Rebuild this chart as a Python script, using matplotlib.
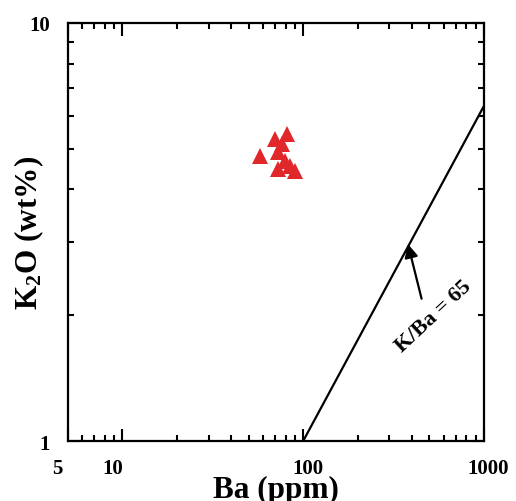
import matplotlib
matplotlib.use("Agg")
import matplotlib.pyplot as plt
from matplotlib.ticker import LogLocator, NullFormatter, FixedLocator, FixedFormatter
from matplotlib.transforms import ScaledTranslation

plt.rcParams['font.family'] = ['Liberation Serif', 'DejaVu Serif']
plt.rcParams['font.weight'] = 'bold'
plt.rcParams['mathtext.fontset'] = 'custom'
plt.rcParams['mathtext.rm'] = 'Liberation Serif:bold'
plt.rcParams['mathtext.bf'] = 'Liberation Serif:bold'
plt.rcParams['mathtext.default'] = 'bf'

# Sample compositions
ba_ppm = [81.0, 69.8, 76.0, 57.7, 72.5, 79.3, 84.5, 90.1, 72.5]
k2o_wt = [5.43, 5.28, 5.13, 4.81, 4.91, 4.68, 4.56, 4.43, 4.47]

# Reference line K/Ba = 65
ref_ba = [100, 1000]
ref_k2o = [1.0, 6.33]

x_ticks = [5, 10, 100, 1000]
x_tick_labels = ['5', '10', '100', '1000']
y_ticks = [1, 10]
y_tick_labels = ['1', '10']

fig = plt.figure(figsize=(5.16, 5.02), dpi=100)
ax = fig.add_axes([0.1318, 0.1195, 0.806, 0.8327])

ax.set_xscale('log')
ax.set_yscale('log')
ax.set_xlim(5, 1000)
ax.set_ylim(1, 10)

ax.plot(ref_ba, ref_k2o, color='black', lw=1.6, solid_capstyle='butt')
ax.plot(ba_ppm, k2o_wt, linestyle='none', marker='^', markersize=11,
        color='#e0282a', markeredgewidth=0)

ax.annotate('', xy=(379.8, 2.96), xytext=(452, 2.19),
            arrowprops=dict(arrowstyle='-|>', lw=1.6, color='black',
                            mutation_scale=20, shrinkA=0, shrinkB=0))
ax.text(529, 1.99, 'K/Ba = 65', rotation=43, ha='center', va='center',
        fontsize=16, fontweight='bold', rotation_mode='anchor')

ax.xaxis.set_major_locator(FixedLocator(x_ticks))
ax.xaxis.set_major_formatter(FixedFormatter(x_tick_labels))
ax.xaxis.set_minor_locator(LogLocator(base=10, subs=range(2, 10)))
ax.xaxis.set_minor_formatter(NullFormatter())
ax.yaxis.set_major_locator(FixedLocator(y_ticks))
ax.yaxis.set_major_formatter(FixedFormatter(y_tick_labels))
ax.yaxis.set_minor_locator(LogLocator(base=10, subs=range(2, 10)))
ax.yaxis.set_minor_formatter(NullFormatter())

ax.tick_params(which='both', direction='in', top=True, right=True, width=1.5,
               labelsize=15)
ax.tick_params(which='major', length=9)
ax.tick_params(which='minor', length=4)
ax.tick_params(axis='x', which='major', pad=12)
ax.tick_params(axis='y', which='major', pad=13)

# nudge the x tick labels sideways a little
x_label_shift_px = [-11, -10, 5, 4]
for tick, dx in zip(ax.xaxis.get_major_ticks(), x_label_shift_px):
    tick.label1.set_fontweight('bold')
    tick.label1.set_transform(tick.label1.get_transform()
                              + ScaledTranslation(dx / 100, 0, fig.dpi_scale_trans))
for tick in ax.yaxis.get_major_ticks():
    tick.label1.set_fontweight('bold')

for s in ax.spines.values():
    s.set_linewidth(1.6)

ax.set_xlabel('Ba (ppm)', fontsize=22.5, fontweight='bold', labelpad=-2)
ax.set_ylabel(r'K$_2$O (wt%)', fontsize=22.5, fontweight='bold')
ax.yaxis.set_label_coords(-0.053, 0.5)

fig.savefig('out.png', dpi=100)
